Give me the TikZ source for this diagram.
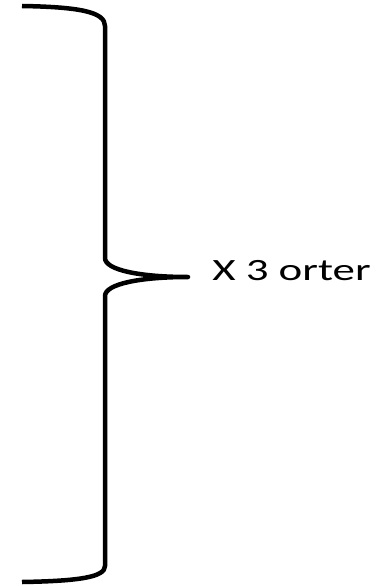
\documentclass[tikz,border=0pt]{standalone}
\usepackage{fontspec}
\setmainfont{Carlito}
\usetikzlibrary{positioning}

\begin{document}
\begin{tikzpicture}[x=1pt, y=1pt]
		\useasboundingbox (0,0) rectangle (377,-586);
		
		% klammer
		\coordinate (spets) at (188,-277);
		\draw[line width=4.5pt, line join=round]
			(22,-6) .. controls (80,-7) and (105,-12) .. (105,-26)
			-- (105,-258) .. controls (105,-270) and (140,-277) .. (spets)
			.. controls (140,-277) and (105,-284) .. (105,-296)
			-- (105,-566) .. controls (105,-577) and (80,-581) .. (22,-582);
		
		% text
		\node[anchor=base west, inner sep=0pt, xscale=1.45, font=\fontsize{31}{35}\selectfont] (antal) at ([xshift=24pt, yshift=-3pt]spets) {X 3 orter};
	\end{tikzpicture}
\end{document}
